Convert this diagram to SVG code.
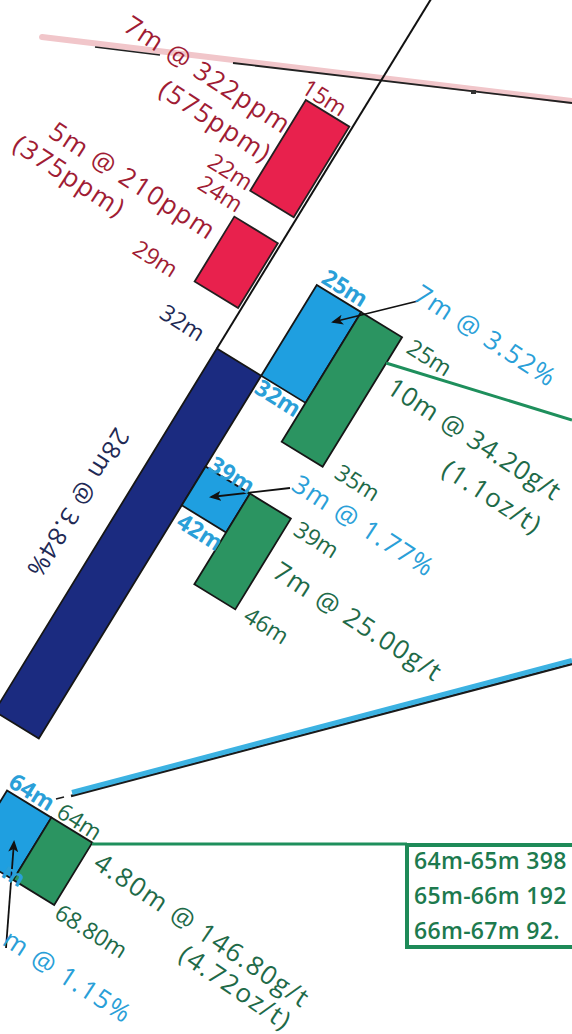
<svg xmlns="http://www.w3.org/2000/svg" width="572" height="1034" viewBox="0 0 572 1034">
<defs>
<style>
text{font-family:"Open Sans","Liberation Sans",sans-serif;}
.red{fill:#a01c34;font-size:26px;letter-spacing:1.5px}
.redd{fill:#a01c34;font-size:23px}
.navy{fill:#1f2a55;font-size:23px}
.lb{fill:#2a9fd8;font-size:26px;letter-spacing:1.5px}
.lbd{fill:#2a9fd8;font-size:23px;font-weight:700}
.gr{fill:#1e6a48;font-size:26px;letter-spacing:1.6px}
.grd{fill:#1e6a48;font-size:23px}
.box{fill:#1d7a4e;font-size:23px;font-weight:600;letter-spacing:0.3px}
.rr{fill:#e8214d;stroke:#231f20;stroke-width:1.8}
.db{fill:#1b2b80;stroke:#161616;stroke-width:1.8}
.lbr{fill:#1f9fe0;stroke:#161616;stroke-width:1.8}
.gn{fill:#2b9461;stroke:#161616;stroke-width:1.8}
</style>
<marker id="ah" markerWidth="12" markerHeight="10" refX="10" refY="5" orient="auto" markerUnits="userSpaceOnUse">
<path d="M0,0 L12,5 L0,10 L3,5 z" fill="#111"/>
</marker>
</defs>
<rect width="572" height="1034" fill="#ffffff"/>
<g id="surface">
<line x1="42" y1="37" x2="572" y2="101" stroke="#f1c6ca" stroke-width="6" stroke-linecap="round"/>
<line x1="95" y1="47" x2="160" y2="55" stroke="#222" stroke-width="1.6"/>
<line x1="233" y1="63" x2="572" y2="103" stroke="#222" stroke-width="1.8"/>
<rect x="471" y="90" width="5" height="4" fill="#333"/>
</g>
<g id="hole" transform="translate(471,-66.2) rotate(31.5)">
<line x1="0" y1="-200" x2="0" y2="486" stroke="#111" stroke-width="2"/>
<g id="zn1"><rect class="rr" x="-54" y="228" width="51" height="106.4"/></g>
<g id="zn2"><rect class="rr" x="-54" y="364.8" width="51" height="76"/></g>
<g id="cu-main"><rect class="db" x="0" y="486.4" width="52" height="425.6"/></g>
<g id="cu1"><rect class="lbr" x="52" y="380" width="52" height="106.4"/></g>
<g id="au1"><rect class="gn" x="104" y="380" width="48" height="152"/></g>
<g id="cu2"><rect class="lbr" x="52" y="592.8" width="52" height="45.6"/></g>
<g id="au2"><rect class="gn" x="104" y="592.8" width="48" height="106.4"/></g>
<g id="cu3"><rect class="lbr" x="52" y="972.8" width="52" height="73"/></g>
<g id="au3"><rect class="gn" x="104" y="972.8" width="48" height="73"/></g>
</g>
<g id="connectors">
<line x1="386" y1="363" x2="572" y2="420" stroke="#1e8f5c" stroke-width="3"/>
<line x1="92" y1="844" x2="407" y2="844" stroke="#1e8f5c" stroke-width="3"/>
<line x1="71" y1="796" x2="572" y2="664" stroke="#1a1a1a" stroke-width="2.5"/>
<line x1="72" y1="792.5" x2="572" y2="660.5" stroke="#3cb2e2" stroke-width="5"/>
<line x1="56" y1="799" x2="64" y2="797" stroke="#1a1a1a" stroke-width="1.5"/>
<line x1="418" y1="301" x2="333" y2="322" stroke="#111" stroke-width="1.8" marker-end="url(#ah)"/>
<line x1="290" y1="488" x2="211" y2="497" stroke="#111" stroke-width="1.8" marker-end="url(#ah)"/>
<line x1="6" y1="948" x2="14" y2="842" stroke="#111" stroke-width="1.8" marker-end="url(#ah)"/>
</g>
<g id="assay-box">
<rect x="407" y="845" width="200" height="102" fill="#fff" stroke="#1e8a58" stroke-width="4"/>
<text class="box" x="414" y="869">64m-65m 398</text>
<text class="box" x="414" y="904">65m-66m 192</text>
<text class="box" x="414" y="939">66m-67m 92.</text>
</g>
<g id="labels">
<text class="red" transform="translate(122,30) rotate(33)">7m @ 322ppm</text>
<text class="red" transform="translate(157,94) rotate(33)">(575ppm)</text>
<text class="redd" transform="translate(300,92) rotate(32)">15m</text>
<text class="redd" transform="translate(206,166) rotate(32)">22m</text>
<text class="redd" transform="translate(196,188) rotate(32)">24m</text>
<text class="red" transform="translate(47,136) rotate(33)">5m @ 210ppm</text>
<text class="red" transform="translate(11,149) rotate(33)">(375ppm)</text>
<text class="redd" transform="translate(131,253) rotate(32)">29m</text>
<text class="navy" transform="translate(158,317) rotate(32)">32m</text>
<text class="navy" style="font-size:25px;letter-spacing:1.2px" text-anchor="middle" dy="0.35em" transform="translate(78,503) rotate(122)">28m @ 3.84%</text>
<text class="lbd" transform="translate(320,282) rotate(32)">25m</text>
<text class="lbd" transform="translate(253,392) rotate(32)">32m</text>
<text class="lb" transform="translate(412,299) rotate(33)">7m @ 3.52%</text>
<text class="lbd" transform="translate(207,469) rotate(32)">39m</text>
<text class="lbd" transform="translate(175,526) rotate(32)">42m</text>
<text class="lb" transform="translate(290,489) rotate(33)">3m @ 1.77%</text>
<text class="lbd" transform="translate(7,786) rotate(32)">64m</text>
<text class="lb" transform="translate(1,944) rotate(33)">m @ 1.15%</text>
<text class="lbd" transform="translate(0,876) rotate(32)">m</text>
<text class="grd" transform="translate(405,352) rotate(32)">25m</text>
<text class="gr" style="letter-spacing:0.8px" transform="translate(385,392) rotate(33)">10m @ 34.20g/t</text>
<text class="gr" transform="translate(440,474) rotate(33)">(1.1oz/t)</text>
<text class="grd" transform="translate(333,477) rotate(32)">35m</text>
<text class="grd" transform="translate(292,534) rotate(32)">39m</text>
<text class="gr" transform="translate(271,576) rotate(33)">7m @ 25.00g/t</text>
<text class="grd" transform="translate(242,620) rotate(32)">46m</text>
<text class="grd" transform="translate(55,816) rotate(32)">64m</text>
<text class="gr" transform="translate(92,867) rotate(34)">4.80m @ 146.80g/t</text>
<text class="grd" transform="translate(53,917) rotate(32)">68.80m</text>
<text class="gr" transform="translate(177,959) rotate(34)">(4.72oz/t)</text>
</g>
</svg>
